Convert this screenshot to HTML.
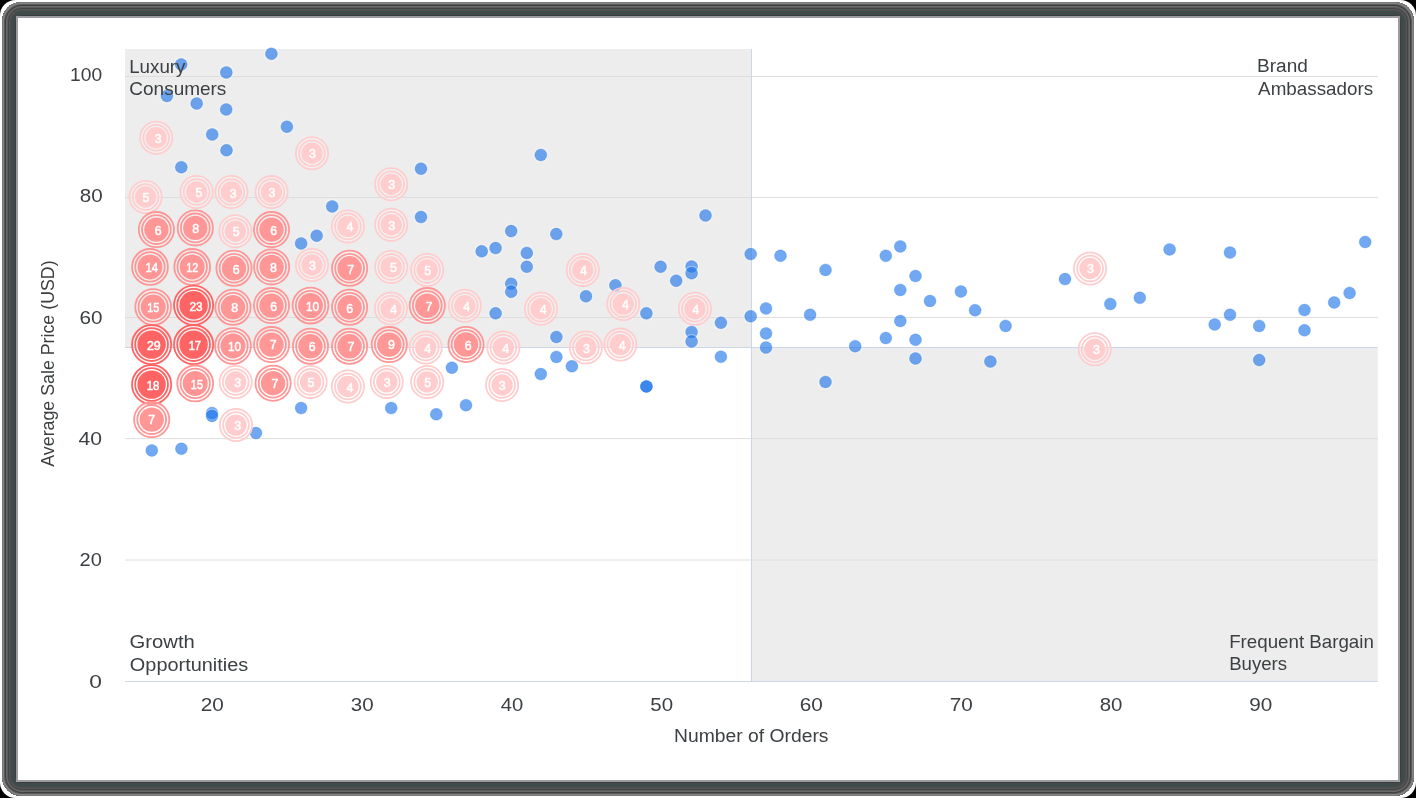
<!DOCTYPE html>
<html><head><meta charset="utf-8"><title>Customer Segments</title>
<style>
html,body{margin:0;padding:0;width:1416px;height:798px;overflow:hidden;background:#000;}
*{font-family:"Liberation Sans",sans-serif;}
#outer{position:absolute;left:0;top:0;width:1416px;height:798px;background:#fff;border-radius:15.5px;}
#frame{position:absolute;left:2px;top:2px;width:1412px;height:794px;background:#9b9ba0;border-radius:20px;box-shadow:inset 0 0 0 1px #7a7a7a,inset 0 0 0 2px #858585,inset 0 0 0 3px #585858,inset 0 0 0 4px #404040,inset 0 0 0 5px #686868,inset 0 0 0 6px #5c5c5c,inset 0 0 0 7px #444444,inset 0 0 0 8px #555555,inset 0 0 0 9px #4e4e4e,inset 0 0 0 10px #3a4e4e,inset 0 0 0 11px #474747,inset 0 0 0 12px #3c4c4c,inset 0 0 0 13px #474747,inset 0 0 0 14px #334040;}
#light{position:absolute;left:16px;top:16px;width:1384px;height:766px;background:#9b9ba0;}
#card{position:absolute;left:18px;top:18px;width:1380px;height:762px;background:#fff;}
svg{position:absolute;left:0;top:0;will-change:transform;}
</style></head><body>
<div id="outer"></div><div id="frame"></div><div id="light"></div><div id="card"></div>
<svg width="1416" height="798" viewBox="0 0 1416 798" font-family="Liberation Sans, sans-serif">
<rect x="125.0" y="49.0" width="626.5" height="298.5" fill="#ededed"/>
<rect x="751.5" y="347.5" width="626.3" height="333.5" fill="#ededed"/>
<line x1="125.0" x2="1377.8" y1="76.5" y2="76.5" stroke="#dedede" stroke-width="1"/>
<line x1="125.0" x2="1377.8" y1="197.5" y2="197.5" stroke="#dedede" stroke-width="1"/>
<line x1="125.0" x2="1377.8" y1="317.5" y2="317.5" stroke="#dedede" stroke-width="1"/>
<line x1="125.0" x2="1377.8" y1="438.6" y2="438.6" stroke="#dedede" stroke-width="1"/>
<line x1="125.0" x2="1377.8" y1="560.0" y2="560.0" stroke="#dedede" stroke-width="1"/>
<line x1="751.5" x2="751.5" y1="49.0" y2="681.0" stroke="#ccd6eb" stroke-width="1"/>
<line x1="125.0" x2="1377.8" y1="347.5" y2="347.5" stroke="#ccd6eb" stroke-width="1"/>
<line x1="125.0" x2="1377.8" y1="681.5" y2="681.5" stroke="#ccd6eb" stroke-width="1"/>
<circle cx="181.2" cy="64.4" r="7.0" fill="none" stroke="#fff" stroke-opacity="0.35" stroke-width="1.1"/>
<circle cx="181.2" cy="64.4" r="6.0" fill="#1a73e8" fill-opacity="0.62" stroke="#1a73e8" stroke-opacity="0.3" stroke-width="0.8"/>
<circle cx="271.4" cy="53.8" r="7.0" fill="none" stroke="#fff" stroke-opacity="0.35" stroke-width="1.1"/>
<circle cx="271.4" cy="53.8" r="6.0" fill="#1a73e8" fill-opacity="0.62" stroke="#1a73e8" stroke-opacity="0.3" stroke-width="0.8"/>
<circle cx="226.3" cy="72.4" r="7.0" fill="none" stroke="#fff" stroke-opacity="0.35" stroke-width="1.1"/>
<circle cx="226.3" cy="72.4" r="6.0" fill="#1a73e8" fill-opacity="0.62" stroke="#1a73e8" stroke-opacity="0.3" stroke-width="0.8"/>
<circle cx="166.9" cy="95.9" r="7.0" fill="none" stroke="#fff" stroke-opacity="0.35" stroke-width="1.1"/>
<circle cx="166.9" cy="95.9" r="6.0" fill="#1a73e8" fill-opacity="0.62" stroke="#1a73e8" stroke-opacity="0.3" stroke-width="0.8"/>
<circle cx="196.7" cy="103.5" r="7.0" fill="none" stroke="#fff" stroke-opacity="0.35" stroke-width="1.1"/>
<circle cx="196.7" cy="103.5" r="6.0" fill="#1a73e8" fill-opacity="0.62" stroke="#1a73e8" stroke-opacity="0.3" stroke-width="0.8"/>
<circle cx="226.2" cy="109.5" r="7.0" fill="none" stroke="#fff" stroke-opacity="0.35" stroke-width="1.1"/>
<circle cx="226.2" cy="109.5" r="6.0" fill="#1a73e8" fill-opacity="0.62" stroke="#1a73e8" stroke-opacity="0.3" stroke-width="0.8"/>
<circle cx="286.9" cy="126.7" r="7.0" fill="none" stroke="#fff" stroke-opacity="0.35" stroke-width="1.1"/>
<circle cx="286.9" cy="126.7" r="6.0" fill="#1a73e8" fill-opacity="0.62" stroke="#1a73e8" stroke-opacity="0.3" stroke-width="0.8"/>
<circle cx="212.2" cy="134.5" r="7.0" fill="none" stroke="#fff" stroke-opacity="0.35" stroke-width="1.1"/>
<circle cx="212.2" cy="134.5" r="6.0" fill="#1a73e8" fill-opacity="0.62" stroke="#1a73e8" stroke-opacity="0.3" stroke-width="0.8"/>
<circle cx="226.5" cy="150.3" r="7.0" fill="none" stroke="#fff" stroke-opacity="0.35" stroke-width="1.1"/>
<circle cx="226.5" cy="150.3" r="6.0" fill="#1a73e8" fill-opacity="0.62" stroke="#1a73e8" stroke-opacity="0.3" stroke-width="0.8"/>
<circle cx="181.3" cy="167.2" r="7.0" fill="none" stroke="#fff" stroke-opacity="0.35" stroke-width="1.1"/>
<circle cx="181.3" cy="167.2" r="6.0" fill="#1a73e8" fill-opacity="0.62" stroke="#1a73e8" stroke-opacity="0.3" stroke-width="0.8"/>
<circle cx="332.2" cy="206.4" r="7.0" fill="none" stroke="#fff" stroke-opacity="0.35" stroke-width="1.1"/>
<circle cx="332.2" cy="206.4" r="6.0" fill="#1a73e8" fill-opacity="0.62" stroke="#1a73e8" stroke-opacity="0.3" stroke-width="0.8"/>
<circle cx="421.0" cy="168.7" r="7.0" fill="none" stroke="#fff" stroke-opacity="0.35" stroke-width="1.1"/>
<circle cx="421.0" cy="168.7" r="6.0" fill="#1a73e8" fill-opacity="0.62" stroke="#1a73e8" stroke-opacity="0.3" stroke-width="0.8"/>
<circle cx="540.8" cy="154.9" r="7.0" fill="none" stroke="#fff" stroke-opacity="0.35" stroke-width="1.1"/>
<circle cx="540.8" cy="154.9" r="6.0" fill="#1a73e8" fill-opacity="0.62" stroke="#1a73e8" stroke-opacity="0.3" stroke-width="0.8"/>
<circle cx="316.7" cy="235.7" r="7.0" fill="none" stroke="#fff" stroke-opacity="0.35" stroke-width="1.1"/>
<circle cx="316.7" cy="235.7" r="6.0" fill="#1a73e8" fill-opacity="0.62" stroke="#1a73e8" stroke-opacity="0.3" stroke-width="0.8"/>
<circle cx="301.1" cy="243.4" r="7.0" fill="none" stroke="#fff" stroke-opacity="0.35" stroke-width="1.1"/>
<circle cx="301.1" cy="243.4" r="6.0" fill="#1a73e8" fill-opacity="0.62" stroke="#1a73e8" stroke-opacity="0.3" stroke-width="0.8"/>
<circle cx="421.0" cy="217.0" r="7.0" fill="none" stroke="#fff" stroke-opacity="0.35" stroke-width="1.1"/>
<circle cx="421.0" cy="217.0" r="6.0" fill="#1a73e8" fill-opacity="0.62" stroke="#1a73e8" stroke-opacity="0.3" stroke-width="0.8"/>
<circle cx="212.0" cy="413.0" r="7.0" fill="none" stroke="#fff" stroke-opacity="0.35" stroke-width="1.1"/>
<circle cx="212.0" cy="413.0" r="6.0" fill="#1a73e8" fill-opacity="0.62" stroke="#1a73e8" stroke-opacity="0.3" stroke-width="0.8"/>
<circle cx="212.0" cy="416.0" r="7.0" fill="none" stroke="#fff" stroke-opacity="0.35" stroke-width="1.1"/>
<circle cx="212.0" cy="416.0" r="6.0" fill="#1a73e8" fill-opacity="0.62" stroke="#1a73e8" stroke-opacity="0.3" stroke-width="0.8"/>
<circle cx="301.1" cy="408.1" r="7.0" fill="none" stroke="#fff" stroke-opacity="0.35" stroke-width="1.1"/>
<circle cx="301.1" cy="408.1" r="6.0" fill="#1a73e8" fill-opacity="0.62" stroke="#1a73e8" stroke-opacity="0.3" stroke-width="0.8"/>
<circle cx="391.2" cy="408.1" r="7.0" fill="none" stroke="#fff" stroke-opacity="0.35" stroke-width="1.1"/>
<circle cx="391.2" cy="408.1" r="6.0" fill="#1a73e8" fill-opacity="0.62" stroke="#1a73e8" stroke-opacity="0.3" stroke-width="0.8"/>
<circle cx="256.0" cy="433.0" r="7.0" fill="none" stroke="#fff" stroke-opacity="0.35" stroke-width="1.1"/>
<circle cx="256.0" cy="433.0" r="6.0" fill="#1a73e8" fill-opacity="0.62" stroke="#1a73e8" stroke-opacity="0.3" stroke-width="0.8"/>
<circle cx="151.8" cy="450.4" r="7.0" fill="none" stroke="#fff" stroke-opacity="0.35" stroke-width="1.1"/>
<circle cx="151.8" cy="450.4" r="6.0" fill="#1a73e8" fill-opacity="0.62" stroke="#1a73e8" stroke-opacity="0.3" stroke-width="0.8"/>
<circle cx="181.4" cy="448.8" r="7.0" fill="none" stroke="#fff" stroke-opacity="0.35" stroke-width="1.1"/>
<circle cx="181.4" cy="448.8" r="6.0" fill="#1a73e8" fill-opacity="0.62" stroke="#1a73e8" stroke-opacity="0.3" stroke-width="0.8"/>
<circle cx="511.2" cy="231.1" r="7.0" fill="none" stroke="#fff" stroke-opacity="0.35" stroke-width="1.1"/>
<circle cx="511.2" cy="231.1" r="6.0" fill="#1a73e8" fill-opacity="0.62" stroke="#1a73e8" stroke-opacity="0.3" stroke-width="0.8"/>
<circle cx="556.3" cy="234.1" r="7.0" fill="none" stroke="#fff" stroke-opacity="0.35" stroke-width="1.1"/>
<circle cx="556.3" cy="234.1" r="6.0" fill="#1a73e8" fill-opacity="0.62" stroke="#1a73e8" stroke-opacity="0.3" stroke-width="0.8"/>
<circle cx="481.7" cy="251.3" r="7.0" fill="none" stroke="#fff" stroke-opacity="0.35" stroke-width="1.1"/>
<circle cx="481.7" cy="251.3" r="6.0" fill="#1a73e8" fill-opacity="0.62" stroke="#1a73e8" stroke-opacity="0.3" stroke-width="0.8"/>
<circle cx="495.6" cy="248.1" r="7.0" fill="none" stroke="#fff" stroke-opacity="0.35" stroke-width="1.1"/>
<circle cx="495.6" cy="248.1" r="6.0" fill="#1a73e8" fill-opacity="0.62" stroke="#1a73e8" stroke-opacity="0.3" stroke-width="0.8"/>
<circle cx="526.8" cy="252.9" r="7.0" fill="none" stroke="#fff" stroke-opacity="0.35" stroke-width="1.1"/>
<circle cx="526.8" cy="252.9" r="6.0" fill="#1a73e8" fill-opacity="0.62" stroke="#1a73e8" stroke-opacity="0.3" stroke-width="0.8"/>
<circle cx="526.8" cy="266.7" r="7.0" fill="none" stroke="#fff" stroke-opacity="0.35" stroke-width="1.1"/>
<circle cx="526.8" cy="266.7" r="6.0" fill="#1a73e8" fill-opacity="0.62" stroke="#1a73e8" stroke-opacity="0.3" stroke-width="0.8"/>
<circle cx="511.2" cy="283.7" r="7.0" fill="none" stroke="#fff" stroke-opacity="0.35" stroke-width="1.1"/>
<circle cx="511.2" cy="283.7" r="6.0" fill="#1a73e8" fill-opacity="0.62" stroke="#1a73e8" stroke-opacity="0.3" stroke-width="0.8"/>
<circle cx="511.2" cy="291.8" r="7.0" fill="none" stroke="#fff" stroke-opacity="0.35" stroke-width="1.1"/>
<circle cx="511.2" cy="291.8" r="6.0" fill="#1a73e8" fill-opacity="0.62" stroke="#1a73e8" stroke-opacity="0.3" stroke-width="0.8"/>
<circle cx="660.6" cy="266.7" r="7.0" fill="none" stroke="#fff" stroke-opacity="0.35" stroke-width="1.1"/>
<circle cx="660.6" cy="266.7" r="6.0" fill="#1a73e8" fill-opacity="0.62" stroke="#1a73e8" stroke-opacity="0.3" stroke-width="0.8"/>
<circle cx="676.2" cy="280.7" r="7.0" fill="none" stroke="#fff" stroke-opacity="0.35" stroke-width="1.1"/>
<circle cx="676.2" cy="280.7" r="6.0" fill="#1a73e8" fill-opacity="0.62" stroke="#1a73e8" stroke-opacity="0.3" stroke-width="0.8"/>
<circle cx="691.6" cy="266.5" r="7.0" fill="none" stroke="#fff" stroke-opacity="0.35" stroke-width="1.1"/>
<circle cx="691.6" cy="266.5" r="6.0" fill="#1a73e8" fill-opacity="0.62" stroke="#1a73e8" stroke-opacity="0.3" stroke-width="0.8"/>
<circle cx="691.6" cy="273.2" r="7.0" fill="none" stroke="#fff" stroke-opacity="0.35" stroke-width="1.1"/>
<circle cx="691.6" cy="273.2" r="6.0" fill="#1a73e8" fill-opacity="0.62" stroke="#1a73e8" stroke-opacity="0.3" stroke-width="0.8"/>
<circle cx="615.4" cy="285.3" r="7.0" fill="none" stroke="#fff" stroke-opacity="0.35" stroke-width="1.1"/>
<circle cx="615.4" cy="285.3" r="6.0" fill="#1a73e8" fill-opacity="0.62" stroke="#1a73e8" stroke-opacity="0.3" stroke-width="0.8"/>
<circle cx="586.0" cy="296.3" r="7.0" fill="none" stroke="#fff" stroke-opacity="0.35" stroke-width="1.1"/>
<circle cx="586.0" cy="296.3" r="6.0" fill="#1a73e8" fill-opacity="0.62" stroke="#1a73e8" stroke-opacity="0.3" stroke-width="0.8"/>
<circle cx="495.6" cy="313.3" r="7.0" fill="none" stroke="#fff" stroke-opacity="0.35" stroke-width="1.1"/>
<circle cx="495.6" cy="313.3" r="6.0" fill="#1a73e8" fill-opacity="0.62" stroke="#1a73e8" stroke-opacity="0.3" stroke-width="0.8"/>
<circle cx="646.4" cy="313.3" r="7.0" fill="none" stroke="#fff" stroke-opacity="0.35" stroke-width="1.1"/>
<circle cx="646.4" cy="313.3" r="6.0" fill="#1a73e8" fill-opacity="0.62" stroke="#1a73e8" stroke-opacity="0.3" stroke-width="0.8"/>
<circle cx="556.4" cy="336.9" r="7.0" fill="none" stroke="#fff" stroke-opacity="0.35" stroke-width="1.1"/>
<circle cx="556.4" cy="336.9" r="6.0" fill="#1a73e8" fill-opacity="0.62" stroke="#1a73e8" stroke-opacity="0.3" stroke-width="0.8"/>
<circle cx="556.4" cy="356.9" r="7.0" fill="none" stroke="#fff" stroke-opacity="0.35" stroke-width="1.1"/>
<circle cx="556.4" cy="356.9" r="6.0" fill="#1a73e8" fill-opacity="0.62" stroke="#1a73e8" stroke-opacity="0.3" stroke-width="0.8"/>
<circle cx="691.6" cy="331.9" r="7.0" fill="none" stroke="#fff" stroke-opacity="0.35" stroke-width="1.1"/>
<circle cx="691.6" cy="331.9" r="6.0" fill="#1a73e8" fill-opacity="0.62" stroke="#1a73e8" stroke-opacity="0.3" stroke-width="0.8"/>
<circle cx="691.6" cy="341.5" r="7.0" fill="none" stroke="#fff" stroke-opacity="0.35" stroke-width="1.1"/>
<circle cx="691.6" cy="341.5" r="6.0" fill="#1a73e8" fill-opacity="0.62" stroke="#1a73e8" stroke-opacity="0.3" stroke-width="0.8"/>
<circle cx="451.9" cy="367.7" r="7.0" fill="none" stroke="#fff" stroke-opacity="0.35" stroke-width="1.1"/>
<circle cx="451.9" cy="367.7" r="6.0" fill="#1a73e8" fill-opacity="0.62" stroke="#1a73e8" stroke-opacity="0.3" stroke-width="0.8"/>
<circle cx="571.9" cy="366.3" r="7.0" fill="none" stroke="#fff" stroke-opacity="0.35" stroke-width="1.1"/>
<circle cx="571.9" cy="366.3" r="6.0" fill="#1a73e8" fill-opacity="0.62" stroke="#1a73e8" stroke-opacity="0.3" stroke-width="0.8"/>
<circle cx="540.8" cy="374.1" r="7.0" fill="none" stroke="#fff" stroke-opacity="0.35" stroke-width="1.1"/>
<circle cx="540.8" cy="374.1" r="6.0" fill="#1a73e8" fill-opacity="0.62" stroke="#1a73e8" stroke-opacity="0.3" stroke-width="0.8"/>
<circle cx="646.4" cy="386.4" r="7.0" fill="none" stroke="#fff" stroke-opacity="0.35" stroke-width="1.1"/>
<circle cx="646.4" cy="386.4" r="6.0" fill="#1a73e8" fill-opacity="0.62" stroke="#1a73e8" stroke-opacity="0.3" stroke-width="0.8"/>
<circle cx="646.4" cy="386.4" r="7.0" fill="none" stroke="#fff" stroke-opacity="0.35" stroke-width="1.1"/>
<circle cx="646.4" cy="386.4" r="6.0" fill="#1a73e8" fill-opacity="0.62" stroke="#1a73e8" stroke-opacity="0.3" stroke-width="0.8"/>
<circle cx="466.0" cy="405.2" r="7.0" fill="none" stroke="#fff" stroke-opacity="0.35" stroke-width="1.1"/>
<circle cx="466.0" cy="405.2" r="6.0" fill="#1a73e8" fill-opacity="0.62" stroke="#1a73e8" stroke-opacity="0.3" stroke-width="0.8"/>
<circle cx="436.3" cy="414.3" r="7.0" fill="none" stroke="#fff" stroke-opacity="0.35" stroke-width="1.1"/>
<circle cx="436.3" cy="414.3" r="6.0" fill="#1a73e8" fill-opacity="0.62" stroke="#1a73e8" stroke-opacity="0.3" stroke-width="0.8"/>
<circle cx="750.7" cy="254.1" r="7.0" fill="none" stroke="#fff" stroke-opacity="0.35" stroke-width="1.1"/>
<circle cx="750.7" cy="254.1" r="6.0" fill="#1a73e8" fill-opacity="0.62" stroke="#1a73e8" stroke-opacity="0.3" stroke-width="0.8"/>
<circle cx="780.5" cy="255.8" r="7.0" fill="none" stroke="#fff" stroke-opacity="0.35" stroke-width="1.1"/>
<circle cx="780.5" cy="255.8" r="6.0" fill="#1a73e8" fill-opacity="0.62" stroke="#1a73e8" stroke-opacity="0.3" stroke-width="0.8"/>
<circle cx="825.5" cy="269.9" r="7.0" fill="none" stroke="#fff" stroke-opacity="0.35" stroke-width="1.1"/>
<circle cx="825.5" cy="269.9" r="6.0" fill="#1a73e8" fill-opacity="0.62" stroke="#1a73e8" stroke-opacity="0.3" stroke-width="0.8"/>
<circle cx="885.8" cy="255.8" r="7.0" fill="none" stroke="#fff" stroke-opacity="0.35" stroke-width="1.1"/>
<circle cx="885.8" cy="255.8" r="6.0" fill="#1a73e8" fill-opacity="0.62" stroke="#1a73e8" stroke-opacity="0.3" stroke-width="0.8"/>
<circle cx="900.3" cy="246.4" r="7.0" fill="none" stroke="#fff" stroke-opacity="0.35" stroke-width="1.1"/>
<circle cx="900.3" cy="246.4" r="6.0" fill="#1a73e8" fill-opacity="0.62" stroke="#1a73e8" stroke-opacity="0.3" stroke-width="0.8"/>
<circle cx="915.5" cy="276.0" r="7.0" fill="none" stroke="#fff" stroke-opacity="0.35" stroke-width="1.1"/>
<circle cx="915.5" cy="276.0" r="6.0" fill="#1a73e8" fill-opacity="0.62" stroke="#1a73e8" stroke-opacity="0.3" stroke-width="0.8"/>
<circle cx="900.3" cy="289.9" r="7.0" fill="none" stroke="#fff" stroke-opacity="0.35" stroke-width="1.1"/>
<circle cx="900.3" cy="289.9" r="6.0" fill="#1a73e8" fill-opacity="0.62" stroke="#1a73e8" stroke-opacity="0.3" stroke-width="0.8"/>
<circle cx="930.0" cy="301.0" r="7.0" fill="none" stroke="#fff" stroke-opacity="0.35" stroke-width="1.1"/>
<circle cx="930.0" cy="301.0" r="6.0" fill="#1a73e8" fill-opacity="0.62" stroke="#1a73e8" stroke-opacity="0.3" stroke-width="0.8"/>
<circle cx="960.9" cy="291.5" r="7.0" fill="none" stroke="#fff" stroke-opacity="0.35" stroke-width="1.1"/>
<circle cx="960.9" cy="291.5" r="6.0" fill="#1a73e8" fill-opacity="0.62" stroke="#1a73e8" stroke-opacity="0.3" stroke-width="0.8"/>
<circle cx="975.1" cy="310.2" r="7.0" fill="none" stroke="#fff" stroke-opacity="0.35" stroke-width="1.1"/>
<circle cx="975.1" cy="310.2" r="6.0" fill="#1a73e8" fill-opacity="0.62" stroke="#1a73e8" stroke-opacity="0.3" stroke-width="0.8"/>
<circle cx="766.0" cy="308.4" r="7.0" fill="none" stroke="#fff" stroke-opacity="0.35" stroke-width="1.1"/>
<circle cx="766.0" cy="308.4" r="6.0" fill="#1a73e8" fill-opacity="0.62" stroke="#1a73e8" stroke-opacity="0.3" stroke-width="0.8"/>
<circle cx="750.7" cy="316.3" r="7.0" fill="none" stroke="#fff" stroke-opacity="0.35" stroke-width="1.1"/>
<circle cx="750.7" cy="316.3" r="6.0" fill="#1a73e8" fill-opacity="0.62" stroke="#1a73e8" stroke-opacity="0.3" stroke-width="0.8"/>
<circle cx="810.1" cy="314.8" r="7.0" fill="none" stroke="#fff" stroke-opacity="0.35" stroke-width="1.1"/>
<circle cx="810.1" cy="314.8" r="6.0" fill="#1a73e8" fill-opacity="0.62" stroke="#1a73e8" stroke-opacity="0.3" stroke-width="0.8"/>
<circle cx="720.9" cy="322.7" r="7.0" fill="none" stroke="#fff" stroke-opacity="0.35" stroke-width="1.1"/>
<circle cx="720.9" cy="322.7" r="6.0" fill="#1a73e8" fill-opacity="0.62" stroke="#1a73e8" stroke-opacity="0.3" stroke-width="0.8"/>
<circle cx="766.0" cy="333.4" r="7.0" fill="none" stroke="#fff" stroke-opacity="0.35" stroke-width="1.1"/>
<circle cx="766.0" cy="333.4" r="6.0" fill="#1a73e8" fill-opacity="0.62" stroke="#1a73e8" stroke-opacity="0.3" stroke-width="0.8"/>
<circle cx="766.0" cy="347.5" r="7.0" fill="none" stroke="#fff" stroke-opacity="0.35" stroke-width="1.1"/>
<circle cx="766.0" cy="347.5" r="6.0" fill="#1a73e8" fill-opacity="0.62" stroke="#1a73e8" stroke-opacity="0.3" stroke-width="0.8"/>
<circle cx="900.3" cy="321.0" r="7.0" fill="none" stroke="#fff" stroke-opacity="0.35" stroke-width="1.1"/>
<circle cx="900.3" cy="321.0" r="6.0" fill="#1a73e8" fill-opacity="0.62" stroke="#1a73e8" stroke-opacity="0.3" stroke-width="0.8"/>
<circle cx="885.8" cy="338.0" r="7.0" fill="none" stroke="#fff" stroke-opacity="0.35" stroke-width="1.1"/>
<circle cx="885.8" cy="338.0" r="6.0" fill="#1a73e8" fill-opacity="0.62" stroke="#1a73e8" stroke-opacity="0.3" stroke-width="0.8"/>
<circle cx="915.5" cy="339.8" r="7.0" fill="none" stroke="#fff" stroke-opacity="0.35" stroke-width="1.1"/>
<circle cx="915.5" cy="339.8" r="6.0" fill="#1a73e8" fill-opacity="0.62" stroke="#1a73e8" stroke-opacity="0.3" stroke-width="0.8"/>
<circle cx="855.2" cy="346.2" r="7.0" fill="none" stroke="#fff" stroke-opacity="0.35" stroke-width="1.1"/>
<circle cx="855.2" cy="346.2" r="6.0" fill="#1a73e8" fill-opacity="0.62" stroke="#1a73e8" stroke-opacity="0.3" stroke-width="0.8"/>
<circle cx="915.5" cy="358.5" r="7.0" fill="none" stroke="#fff" stroke-opacity="0.35" stroke-width="1.1"/>
<circle cx="915.5" cy="358.5" r="6.0" fill="#1a73e8" fill-opacity="0.62" stroke="#1a73e8" stroke-opacity="0.3" stroke-width="0.8"/>
<circle cx="720.9" cy="356.8" r="7.0" fill="none" stroke="#fff" stroke-opacity="0.35" stroke-width="1.1"/>
<circle cx="720.9" cy="356.8" r="6.0" fill="#1a73e8" fill-opacity="0.62" stroke="#1a73e8" stroke-opacity="0.3" stroke-width="0.8"/>
<circle cx="825.5" cy="381.9" r="7.0" fill="none" stroke="#fff" stroke-opacity="0.35" stroke-width="1.1"/>
<circle cx="825.5" cy="381.9" r="6.0" fill="#1a73e8" fill-opacity="0.62" stroke="#1a73e8" stroke-opacity="0.3" stroke-width="0.8"/>
<circle cx="705.5" cy="215.5" r="7.0" fill="none" stroke="#fff" stroke-opacity="0.35" stroke-width="1.1"/>
<circle cx="705.5" cy="215.5" r="6.0" fill="#1a73e8" fill-opacity="0.62" stroke="#1a73e8" stroke-opacity="0.3" stroke-width="0.8"/>
<circle cx="1005.6" cy="325.9" r="7.0" fill="none" stroke="#fff" stroke-opacity="0.35" stroke-width="1.1"/>
<circle cx="1005.6" cy="325.9" r="6.0" fill="#1a73e8" fill-opacity="0.62" stroke="#1a73e8" stroke-opacity="0.3" stroke-width="0.8"/>
<circle cx="990.4" cy="361.6" r="7.0" fill="none" stroke="#fff" stroke-opacity="0.35" stroke-width="1.1"/>
<circle cx="990.4" cy="361.6" r="6.0" fill="#1a73e8" fill-opacity="0.62" stroke="#1a73e8" stroke-opacity="0.3" stroke-width="0.8"/>
<circle cx="1065.0" cy="279.1" r="7.0" fill="none" stroke="#fff" stroke-opacity="0.35" stroke-width="1.1"/>
<circle cx="1065.0" cy="279.1" r="6.0" fill="#1a73e8" fill-opacity="0.62" stroke="#1a73e8" stroke-opacity="0.3" stroke-width="0.8"/>
<circle cx="1110.3" cy="303.9" r="7.0" fill="none" stroke="#fff" stroke-opacity="0.35" stroke-width="1.1"/>
<circle cx="1110.3" cy="303.9" r="6.0" fill="#1a73e8" fill-opacity="0.62" stroke="#1a73e8" stroke-opacity="0.3" stroke-width="0.8"/>
<circle cx="1139.8" cy="297.8" r="7.0" fill="none" stroke="#fff" stroke-opacity="0.35" stroke-width="1.1"/>
<circle cx="1139.8" cy="297.8" r="6.0" fill="#1a73e8" fill-opacity="0.62" stroke="#1a73e8" stroke-opacity="0.3" stroke-width="0.8"/>
<circle cx="1169.6" cy="249.4" r="7.0" fill="none" stroke="#fff" stroke-opacity="0.35" stroke-width="1.1"/>
<circle cx="1169.6" cy="249.4" r="6.0" fill="#1a73e8" fill-opacity="0.62" stroke="#1a73e8" stroke-opacity="0.3" stroke-width="0.8"/>
<circle cx="1230.0" cy="252.6" r="7.0" fill="none" stroke="#fff" stroke-opacity="0.35" stroke-width="1.1"/>
<circle cx="1230.0" cy="252.6" r="6.0" fill="#1a73e8" fill-opacity="0.62" stroke="#1a73e8" stroke-opacity="0.3" stroke-width="0.8"/>
<circle cx="1230.0" cy="314.8" r="7.0" fill="none" stroke="#fff" stroke-opacity="0.35" stroke-width="1.1"/>
<circle cx="1230.0" cy="314.8" r="6.0" fill="#1a73e8" fill-opacity="0.62" stroke="#1a73e8" stroke-opacity="0.3" stroke-width="0.8"/>
<circle cx="1214.7" cy="324.4" r="7.0" fill="none" stroke="#fff" stroke-opacity="0.35" stroke-width="1.1"/>
<circle cx="1214.7" cy="324.4" r="6.0" fill="#1a73e8" fill-opacity="0.62" stroke="#1a73e8" stroke-opacity="0.3" stroke-width="0.8"/>
<circle cx="1259.2" cy="325.9" r="7.0" fill="none" stroke="#fff" stroke-opacity="0.35" stroke-width="1.1"/>
<circle cx="1259.2" cy="325.9" r="6.0" fill="#1a73e8" fill-opacity="0.62" stroke="#1a73e8" stroke-opacity="0.3" stroke-width="0.8"/>
<circle cx="1259.2" cy="360.0" r="7.0" fill="none" stroke="#fff" stroke-opacity="0.35" stroke-width="1.1"/>
<circle cx="1259.2" cy="360.0" r="6.0" fill="#1a73e8" fill-opacity="0.62" stroke="#1a73e8" stroke-opacity="0.3" stroke-width="0.8"/>
<circle cx="1304.5" cy="310.1" r="7.0" fill="none" stroke="#fff" stroke-opacity="0.35" stroke-width="1.1"/>
<circle cx="1304.5" cy="310.1" r="6.0" fill="#1a73e8" fill-opacity="0.62" stroke="#1a73e8" stroke-opacity="0.3" stroke-width="0.8"/>
<circle cx="1304.5" cy="330.3" r="7.0" fill="none" stroke="#fff" stroke-opacity="0.35" stroke-width="1.1"/>
<circle cx="1304.5" cy="330.3" r="6.0" fill="#1a73e8" fill-opacity="0.62" stroke="#1a73e8" stroke-opacity="0.3" stroke-width="0.8"/>
<circle cx="1334.2" cy="302.4" r="7.0" fill="none" stroke="#fff" stroke-opacity="0.35" stroke-width="1.1"/>
<circle cx="1334.2" cy="302.4" r="6.0" fill="#1a73e8" fill-opacity="0.62" stroke="#1a73e8" stroke-opacity="0.3" stroke-width="0.8"/>
<circle cx="1349.6" cy="293.0" r="7.0" fill="none" stroke="#fff" stroke-opacity="0.35" stroke-width="1.1"/>
<circle cx="1349.6" cy="293.0" r="6.0" fill="#1a73e8" fill-opacity="0.62" stroke="#1a73e8" stroke-opacity="0.3" stroke-width="0.8"/>
<circle cx="1365.2" cy="242.0" r="7.0" fill="none" stroke="#fff" stroke-opacity="0.35" stroke-width="1.1"/>
<circle cx="1365.2" cy="242.0" r="6.0" fill="#1a73e8" fill-opacity="0.62" stroke="#1a73e8" stroke-opacity="0.3" stroke-width="0.8"/>
<g transform="translate(156.2,137.8)"><circle r="16.10" fill="#fff" fill-opacity="0.22" stroke="#ffcdcd" stroke-width="1.8"/><circle r="12.90" fill="none" stroke="#ffcdcd" stroke-width="1.8"/><circle r="10.70" fill="#ffcdcd"/></g>
<text transform="translate(158.30,143.40) scale(1.0,1)" text-anchor="middle" font-size="12.4" stroke="#fff" stroke-width="0.5" fill="#fff">3</text>
<g transform="translate(145.6,197.0)"><circle r="16.10" fill="#fff" fill-opacity="0.22" stroke="#ffcdcd" stroke-width="1.8"/><circle r="12.90" fill="none" stroke="#ffcdcd" stroke-width="1.8"/><circle r="10.70" fill="#ffcdcd"/></g>
<text transform="translate(146.00,201.70) scale(1.0,1)" text-anchor="middle" font-size="12.4" stroke="#fff" stroke-width="0.5" fill="#fff">5</text>
<g transform="translate(196.6,192.0)"><circle r="16.10" fill="#fff" fill-opacity="0.22" stroke="#ffcdcd" stroke-width="1.8"/><circle r="12.90" fill="none" stroke="#ffcdcd" stroke-width="1.8"/><circle r="10.70" fill="#ffcdcd"/></g>
<text transform="translate(199.00,197.40) scale(1.0,1)" text-anchor="middle" font-size="12.4" stroke="#fff" stroke-width="0.5" fill="#fff">5</text>
<g transform="translate(231.4,192.0)"><circle r="16.10" fill="#fff" fill-opacity="0.22" stroke="#ffcdcd" stroke-width="1.8"/><circle r="12.90" fill="none" stroke="#ffcdcd" stroke-width="1.8"/><circle r="10.70" fill="#ffcdcd"/></g>
<text transform="translate(233.20,197.70) scale(1.0,1)" text-anchor="middle" font-size="12.4" stroke="#fff" stroke-width="0.5" fill="#fff">3</text>
<g transform="translate(271.5,192.1)"><circle r="16.10" fill="#fff" fill-opacity="0.22" stroke="#ffcdcd" stroke-width="1.8"/><circle r="12.90" fill="none" stroke="#ffcdcd" stroke-width="1.8"/><circle r="10.70" fill="#ffcdcd"/></g>
<text transform="translate(272.00,197.30) scale(1.0,1)" text-anchor="middle" font-size="12.4" stroke="#fff" stroke-width="0.5" fill="#fff">3</text>
<g transform="translate(312.0,153.3)"><circle r="16.10" fill="#fff" fill-opacity="0.22" stroke="#ffcdcd" stroke-width="1.8"/><circle r="12.90" fill="none" stroke="#ffcdcd" stroke-width="1.8"/><circle r="10.70" fill="#ffcdcd"/></g>
<text transform="translate(312.40,158.20) scale(1.0,1)" text-anchor="middle" font-size="12.4" stroke="#fff" stroke-width="0.5" fill="#fff">3</text>
<g transform="translate(391.2,184.2)"><circle r="16.10" fill="#fff" fill-opacity="0.22" stroke="#ffcdcd" stroke-width="1.8"/><circle r="12.90" fill="none" stroke="#ffcdcd" stroke-width="1.8"/><circle r="10.70" fill="#ffcdcd"/></g>
<text transform="translate(391.60,189.10) scale(1.0,1)" text-anchor="middle" font-size="12.4" stroke="#fff" stroke-width="0.5" fill="#fff">3</text>
<g transform="translate(156.4,229.6)"><circle r="17.60" fill="#fff" fill-opacity="0.22" stroke="#ff9797" stroke-width="1.8"/><circle r="14.40" fill="none" stroke="#ff9797" stroke-width="1.8"/><circle r="12.20" fill="#ff9797"/></g>
<text transform="translate(158.20,235.00) scale(1.0,1)" text-anchor="middle" font-size="12.4" stroke="#fff" stroke-width="0.5" fill="#fff">6</text>
<g transform="translate(195.3,227.9)"><circle r="17.60" fill="#fff" fill-opacity="0.22" stroke="#ff9797" stroke-width="1.8"/><circle r="14.40" fill="none" stroke="#ff9797" stroke-width="1.8"/><circle r="12.20" fill="#ff9797"/></g>
<text transform="translate(195.70,233.20) scale(1.0,1)" text-anchor="middle" font-size="12.4" stroke="#fff" stroke-width="0.5" fill="#fff">8</text>
<g transform="translate(235.4,231.2)"><circle r="16.10" fill="#fff" fill-opacity="0.22" stroke="#ffcdcd" stroke-width="1.8"/><circle r="12.90" fill="none" stroke="#ffcdcd" stroke-width="1.8"/><circle r="10.70" fill="#ffcdcd"/></g>
<text transform="translate(236.10,235.90) scale(1.0,1)" text-anchor="middle" font-size="12.4" stroke="#fff" stroke-width="0.5" fill="#fff">5</text>
<g transform="translate(271.5,229.6)"><circle r="17.60" fill="#fff" fill-opacity="0.22" stroke="#ff9797" stroke-width="1.8"/><circle r="14.40" fill="none" stroke="#ff9797" stroke-width="1.8"/><circle r="12.20" fill="#ff9797"/></g>
<text transform="translate(273.60,235.00) scale(1.0,1)" text-anchor="middle" font-size="12.4" stroke="#fff" stroke-width="0.5" fill="#fff">6</text>
<g transform="translate(347.9,226.4)"><circle r="16.10" fill="#fff" fill-opacity="0.22" stroke="#ffcdcd" stroke-width="1.8"/><circle r="12.90" fill="none" stroke="#ffcdcd" stroke-width="1.8"/><circle r="10.70" fill="#ffcdcd"/></g>
<text transform="translate(350.00,231.40) scale(1.0,1)" text-anchor="middle" font-size="12.4" stroke="#fff" stroke-width="0.5" fill="#fff">4</text>
<g transform="translate(391.2,224.8)"><circle r="16.10" fill="#fff" fill-opacity="0.22" stroke="#ffcdcd" stroke-width="1.8"/><circle r="12.90" fill="none" stroke="#ffcdcd" stroke-width="1.8"/><circle r="10.70" fill="#ffcdcd"/></g>
<text transform="translate(391.60,229.70) scale(1.0,1)" text-anchor="middle" font-size="12.4" stroke="#fff" stroke-width="0.5" fill="#fff">3</text>
<g transform="translate(150.0,266.9)"><circle r="17.90" fill="#fff" fill-opacity="0.22" stroke="#ff9595" stroke-width="1.8"/><circle r="14.70" fill="none" stroke="#ff9595" stroke-width="1.8"/><circle r="12.50" fill="#ff9595"/></g>
<text transform="translate(151.80,271.80) scale(0.915,1)" text-anchor="middle" font-size="12.4" stroke="#fff" stroke-width="0.5" fill="#fff">14</text>
<g transform="translate(192.2,266.9)"><circle r="17.90" fill="#fff" fill-opacity="0.22" stroke="#ff9595" stroke-width="1.8"/><circle r="14.70" fill="none" stroke="#ff9595" stroke-width="1.8"/><circle r="12.50" fill="#ff9595"/></g>
<text transform="translate(192.20,271.80) scale(0.87,1)" text-anchor="middle" font-size="12.4" stroke="#fff" stroke-width="0.5" fill="#fff">12</text>
<g transform="translate(234.0,268.3)"><circle r="17.60" fill="#fff" fill-opacity="0.22" stroke="#ff9797" stroke-width="1.8"/><circle r="14.40" fill="none" stroke="#ff9797" stroke-width="1.8"/><circle r="12.20" fill="#ff9797"/></g>
<text transform="translate(236.10,273.50) scale(1.0,1)" text-anchor="middle" font-size="12.4" stroke="#fff" stroke-width="0.5" fill="#fff">6</text>
<g transform="translate(271.6,266.9)"><circle r="17.60" fill="#fff" fill-opacity="0.22" stroke="#ff9797" stroke-width="1.8"/><circle r="14.40" fill="none" stroke="#ff9797" stroke-width="1.8"/><circle r="12.20" fill="#ff9797"/></g>
<text transform="translate(273.50,271.80) scale(1.0,1)" text-anchor="middle" font-size="12.4" stroke="#fff" stroke-width="0.5" fill="#fff">8</text>
<g transform="translate(312.0,265.0)"><circle r="16.10" fill="#fff" fill-opacity="0.22" stroke="#ffcdcd" stroke-width="1.8"/><circle r="12.90" fill="none" stroke="#ffcdcd" stroke-width="1.8"/><circle r="10.70" fill="#ffcdcd"/></g>
<text transform="translate(312.40,270.10) scale(1.0,1)" text-anchor="middle" font-size="12.4" stroke="#fff" stroke-width="0.5" fill="#fff">3</text>
<g transform="translate(349.6,268.3)"><circle r="17.60" fill="#fff" fill-opacity="0.22" stroke="#ff9797" stroke-width="1.8"/><circle r="14.40" fill="none" stroke="#ff9797" stroke-width="1.8"/><circle r="12.20" fill="#ff9797"/></g>
<text transform="translate(350.80,273.50) scale(1.0,1)" text-anchor="middle" font-size="12.4" stroke="#fff" stroke-width="0.5" fill="#fff">7</text>
<g transform="translate(391.2,266.9)"><circle r="16.10" fill="#fff" fill-opacity="0.22" stroke="#ffcdcd" stroke-width="1.8"/><circle r="12.90" fill="none" stroke="#ffcdcd" stroke-width="1.8"/><circle r="10.70" fill="#ffcdcd"/></g>
<text transform="translate(393.40,271.80) scale(1.0,1)" text-anchor="middle" font-size="12.4" stroke="#fff" stroke-width="0.5" fill="#fff">5</text>
<g transform="translate(153.2,307.0)"><circle r="17.90" fill="#fff" fill-opacity="0.22" stroke="#ff9595" stroke-width="1.8"/><circle r="14.70" fill="none" stroke="#ff9595" stroke-width="1.8"/><circle r="12.50" fill="#ff9595"/></g>
<text transform="translate(153.20,312.30) scale(0.88,1)" text-anchor="middle" font-size="12.4" stroke="#fff" stroke-width="0.5" fill="#fff">15</text>
<g transform="translate(193.6,305.3)"><circle r="19.60" fill="#fff" fill-opacity="0.22" stroke="#ff6464" stroke-width="1.8"/><circle r="16.40" fill="none" stroke="#ff6464" stroke-width="1.8"/><circle r="14.20" fill="#ff6464"/></g>
<text transform="translate(196.10,310.70) scale(0.95,1)" text-anchor="middle" font-size="12.4" stroke="#fff" stroke-width="0.5" fill="#fff">23</text>
<g transform="translate(233.0,307.3)"><circle r="17.60" fill="#fff" fill-opacity="0.22" stroke="#ff9797" stroke-width="1.8"/><circle r="14.40" fill="none" stroke="#ff9797" stroke-width="1.8"/><circle r="12.20" fill="#ff9797"/></g>
<text transform="translate(234.60,312.20) scale(1.0,1)" text-anchor="middle" font-size="12.4" stroke="#fff" stroke-width="0.5" fill="#fff">8</text>
<g transform="translate(271.5,305.6)"><circle r="17.60" fill="#fff" fill-opacity="0.22" stroke="#ff9797" stroke-width="1.8"/><circle r="14.40" fill="none" stroke="#ff9797" stroke-width="1.8"/><circle r="12.20" fill="#ff9797"/></g>
<text transform="translate(273.60,310.70) scale(1.0,1)" text-anchor="middle" font-size="12.4" stroke="#fff" stroke-width="0.5" fill="#fff">6</text>
<g transform="translate(310.5,305.6)"><circle r="17.90" fill="#fff" fill-opacity="0.22" stroke="#ff9595" stroke-width="1.8"/><circle r="14.70" fill="none" stroke="#ff9595" stroke-width="1.8"/><circle r="12.50" fill="#ff9595"/></g>
<text transform="translate(312.60,310.70) scale(0.95,1)" text-anchor="middle" font-size="12.4" stroke="#fff" stroke-width="0.5" fill="#fff">10</text>
<g transform="translate(349.6,307.3)"><circle r="17.60" fill="#fff" fill-opacity="0.22" stroke="#ff9797" stroke-width="1.8"/><circle r="14.40" fill="none" stroke="#ff9797" stroke-width="1.8"/><circle r="12.20" fill="#ff9797"/></g>
<text transform="translate(349.80,312.50) scale(1.0,1)" text-anchor="middle" font-size="12.4" stroke="#fff" stroke-width="0.5" fill="#fff">6</text>
<g transform="translate(391.0,308.6)"><circle r="16.10" fill="#fff" fill-opacity="0.22" stroke="#ffcdcd" stroke-width="1.8"/><circle r="12.90" fill="none" stroke="#ffcdcd" stroke-width="1.8"/><circle r="10.70" fill="#ffcdcd"/></g>
<text transform="translate(393.50,314.10) scale(1.0,1)" text-anchor="middle" font-size="12.4" stroke="#fff" stroke-width="0.5" fill="#fff">4</text>
<g transform="translate(151.6,344.6)"><circle r="19.60" fill="#fff" fill-opacity="0.22" stroke="#ff6464" stroke-width="1.8"/><circle r="16.40" fill="none" stroke="#ff6464" stroke-width="1.8"/><circle r="14.20" fill="#ff6464"/></g>
<text transform="translate(153.80,349.50) scale(1.0,1)" text-anchor="middle" font-size="12.4" stroke="#fff" stroke-width="0.5" fill="#fff">29</text>
<g transform="translate(193.6,344.6)"><circle r="19.60" fill="#fff" fill-opacity="0.22" stroke="#ff6464" stroke-width="1.8"/><circle r="16.40" fill="none" stroke="#ff6464" stroke-width="1.8"/><circle r="14.20" fill="#ff6464"/></g>
<text transform="translate(194.80,349.70) scale(0.89,1)" text-anchor="middle" font-size="12.4" stroke="#fff" stroke-width="0.5" fill="#fff">17</text>
<g transform="translate(233.0,346.0)"><circle r="17.90" fill="#fff" fill-opacity="0.22" stroke="#ff9595" stroke-width="1.8"/><circle r="14.70" fill="none" stroke="#ff9595" stroke-width="1.8"/><circle r="12.50" fill="#ff9595"/></g>
<text transform="translate(234.60,351.10) scale(0.95,1)" text-anchor="middle" font-size="12.4" stroke="#fff" stroke-width="0.5" fill="#fff">10</text>
<g transform="translate(271.5,344.6)"><circle r="17.60" fill="#fff" fill-opacity="0.22" stroke="#ff9797" stroke-width="1.8"/><circle r="14.40" fill="none" stroke="#ff9797" stroke-width="1.8"/><circle r="12.20" fill="#ff9797"/></g>
<text transform="translate(273.30,349.40) scale(1.0,1)" text-anchor="middle" font-size="12.4" stroke="#fff" stroke-width="0.5" fill="#fff">7</text>
<g transform="translate(310.5,346.3)"><circle r="17.60" fill="#fff" fill-opacity="0.22" stroke="#ff9797" stroke-width="1.8"/><circle r="14.40" fill="none" stroke="#ff9797" stroke-width="1.8"/><circle r="12.20" fill="#ff9797"/></g>
<text transform="translate(312.30,351.10) scale(1.0,1)" text-anchor="middle" font-size="12.4" stroke="#fff" stroke-width="0.5" fill="#fff">6</text>
<g transform="translate(349.6,346.3)"><circle r="17.60" fill="#fff" fill-opacity="0.22" stroke="#ff9797" stroke-width="1.8"/><circle r="14.40" fill="none" stroke="#ff9797" stroke-width="1.8"/><circle r="12.20" fill="#ff9797"/></g>
<text transform="translate(351.00,351.10) scale(1.0,1)" text-anchor="middle" font-size="12.4" stroke="#fff" stroke-width="0.5" fill="#fff">7</text>
<g transform="translate(389.3,344.6)"><circle r="17.60" fill="#fff" fill-opacity="0.22" stroke="#ff9797" stroke-width="1.8"/><circle r="14.40" fill="none" stroke="#ff9797" stroke-width="1.8"/><circle r="12.20" fill="#ff9797"/></g>
<text transform="translate(391.50,349.40) scale(1.0,1)" text-anchor="middle" font-size="12.4" stroke="#fff" stroke-width="0.5" fill="#fff">9</text>
<g transform="translate(151.6,384.6)"><circle r="19.60" fill="#fff" fill-opacity="0.22" stroke="#ff6464" stroke-width="1.8"/><circle r="16.40" fill="none" stroke="#ff6464" stroke-width="1.8"/><circle r="14.20" fill="#ff6464"/></g>
<text transform="translate(153.00,390.30) scale(0.915,1)" text-anchor="middle" font-size="12.4" stroke="#fff" stroke-width="0.5" fill="#fff">18</text>
<g transform="translate(195.2,383.4)"><circle r="17.90" fill="#fff" fill-opacity="0.22" stroke="#ff9595" stroke-width="1.8"/><circle r="14.70" fill="none" stroke="#ff9595" stroke-width="1.8"/><circle r="12.50" fill="#ff9595"/></g>
<text transform="translate(196.90,388.80) scale(0.88,1)" text-anchor="middle" font-size="12.4" stroke="#fff" stroke-width="0.5" fill="#fff">15</text>
<g transform="translate(235.7,382.0)"><circle r="16.10" fill="#fff" fill-opacity="0.22" stroke="#ffcdcd" stroke-width="1.8"/><circle r="12.90" fill="none" stroke="#ffcdcd" stroke-width="1.8"/><circle r="10.70" fill="#ffcdcd"/></g>
<text transform="translate(237.60,387.10) scale(1.0,1)" text-anchor="middle" font-size="12.4" stroke="#fff" stroke-width="0.5" fill="#fff">3</text>
<g transform="translate(273.1,383.2)"><circle r="17.60" fill="#fff" fill-opacity="0.22" stroke="#ff9797" stroke-width="1.8"/><circle r="14.40" fill="none" stroke="#ff9797" stroke-width="1.8"/><circle r="12.20" fill="#ff9797"/></g>
<text transform="translate(275.00,388.30) scale(1.0,1)" text-anchor="middle" font-size="12.4" stroke="#fff" stroke-width="0.5" fill="#fff">7</text>
<g transform="translate(310.6,381.9)"><circle r="16.10" fill="#fff" fill-opacity="0.22" stroke="#ffcdcd" stroke-width="1.8"/><circle r="12.90" fill="none" stroke="#ffcdcd" stroke-width="1.8"/><circle r="10.70" fill="#ffcdcd"/></g>
<text transform="translate(310.90,386.90) scale(1.0,1)" text-anchor="middle" font-size="12.4" stroke="#fff" stroke-width="0.5" fill="#fff">5</text>
<g transform="translate(347.9,386.5)"><circle r="16.10" fill="#fff" fill-opacity="0.22" stroke="#ffcdcd" stroke-width="1.8"/><circle r="12.90" fill="none" stroke="#ffcdcd" stroke-width="1.8"/><circle r="10.70" fill="#ffcdcd"/></g>
<text transform="translate(350.00,391.50) scale(1.0,1)" text-anchor="middle" font-size="12.4" stroke="#fff" stroke-width="0.5" fill="#fff">4</text>
<g transform="translate(386.8,381.9)"><circle r="16.10" fill="#fff" fill-opacity="0.22" stroke="#ffcdcd" stroke-width="1.8"/><circle r="12.90" fill="none" stroke="#ffcdcd" stroke-width="1.8"/><circle r="10.70" fill="#ffcdcd"/></g>
<text transform="translate(387.10,387.00) scale(1.0,1)" text-anchor="middle" font-size="12.4" stroke="#fff" stroke-width="0.5" fill="#fff">3</text>
<g transform="translate(151.7,419.6)"><circle r="17.60" fill="#fff" fill-opacity="0.22" stroke="#ff9797" stroke-width="1.8"/><circle r="14.40" fill="none" stroke="#ff9797" stroke-width="1.8"/><circle r="12.20" fill="#ff9797"/></g>
<text transform="translate(151.70,424.40) scale(1.0,1)" text-anchor="middle" font-size="12.4" stroke="#fff" stroke-width="0.5" fill="#fff">7</text>
<g transform="translate(236.0,425.1)"><circle r="16.10" fill="#fff" fill-opacity="0.22" stroke="#ffcdcd" stroke-width="1.8"/><circle r="12.90" fill="none" stroke="#ffcdcd" stroke-width="1.8"/><circle r="10.70" fill="#ffcdcd"/></g>
<text transform="translate(237.60,430.40) scale(1.0,1)" text-anchor="middle" font-size="12.4" stroke="#fff" stroke-width="0.5" fill="#fff">3</text>
<g transform="translate(427.2,269.9)"><circle r="16.10" fill="#fff" fill-opacity="0.22" stroke="#ffcdcd" stroke-width="1.8"/><circle r="12.90" fill="none" stroke="#ffcdcd" stroke-width="1.8"/><circle r="10.70" fill="#ffcdcd"/></g>
<text transform="translate(427.70,274.70) scale(1.0,1)" text-anchor="middle" font-size="12.4" stroke="#fff" stroke-width="0.5" fill="#fff">5</text>
<g transform="translate(427.3,305.6)"><circle r="17.60" fill="#fff" fill-opacity="0.22" stroke="#ff9797" stroke-width="1.8"/><circle r="14.40" fill="none" stroke="#ff9797" stroke-width="1.8"/><circle r="12.20" fill="#ff9797"/></g>
<text transform="translate(429.00,310.70) scale(1.0,1)" text-anchor="middle" font-size="12.4" stroke="#fff" stroke-width="0.5" fill="#fff">7</text>
<g transform="translate(464.8,305.8)"><circle r="16.10" fill="#fff" fill-opacity="0.22" stroke="#ffcdcd" stroke-width="1.8"/><circle r="12.90" fill="none" stroke="#ffcdcd" stroke-width="1.8"/><circle r="10.70" fill="#ffcdcd"/></g>
<text transform="translate(466.80,310.70) scale(1.0,1)" text-anchor="middle" font-size="12.4" stroke="#fff" stroke-width="0.5" fill="#fff">4</text>
<g transform="translate(541.0,308.8)"><circle r="16.10" fill="#fff" fill-opacity="0.22" stroke="#ffcdcd" stroke-width="1.8"/><circle r="12.90" fill="none" stroke="#ffcdcd" stroke-width="1.8"/><circle r="10.70" fill="#ffcdcd"/></g>
<text transform="translate(543.20,314.00) scale(1.0,1)" text-anchor="middle" font-size="12.4" stroke="#fff" stroke-width="0.5" fill="#fff">4</text>
<g transform="translate(425.7,347.6)"><circle r="16.10" fill="#fff" fill-opacity="0.22" stroke="#ffcdcd" stroke-width="1.8"/><circle r="12.90" fill="none" stroke="#ffcdcd" stroke-width="1.8"/><circle r="10.70" fill="#ffcdcd"/></g>
<text transform="translate(427.80,352.50) scale(1.0,1)" text-anchor="middle" font-size="12.4" stroke="#fff" stroke-width="0.5" fill="#fff">4</text>
<g transform="translate(466.0,344.5)"><circle r="17.60" fill="#fff" fill-opacity="0.22" stroke="#ff9797" stroke-width="1.8"/><circle r="14.40" fill="none" stroke="#ff9797" stroke-width="1.8"/><circle r="12.20" fill="#ff9797"/></g>
<text transform="translate(468.20,349.70) scale(1.0,1)" text-anchor="middle" font-size="12.4" stroke="#fff" stroke-width="0.5" fill="#fff">6</text>
<g transform="translate(503.4,347.6)"><circle r="16.10" fill="#fff" fill-opacity="0.22" stroke="#ffcdcd" stroke-width="1.8"/><circle r="12.90" fill="none" stroke="#ffcdcd" stroke-width="1.8"/><circle r="10.70" fill="#ffcdcd"/></g>
<text transform="translate(505.80,352.50) scale(1.0,1)" text-anchor="middle" font-size="12.4" stroke="#fff" stroke-width="0.5" fill="#fff">4</text>
<g transform="translate(427.2,381.9)"><circle r="16.10" fill="#fff" fill-opacity="0.22" stroke="#ffcdcd" stroke-width="1.8"/><circle r="12.90" fill="none" stroke="#ffcdcd" stroke-width="1.8"/><circle r="10.70" fill="#ffcdcd"/></g>
<text transform="translate(427.70,387.00) scale(1.0,1)" text-anchor="middle" font-size="12.4" stroke="#fff" stroke-width="0.5" fill="#fff">5</text>
<g transform="translate(502.1,385.0)"><circle r="16.10" fill="#fff" fill-opacity="0.22" stroke="#ffcdcd" stroke-width="1.8"/><circle r="12.90" fill="none" stroke="#ffcdcd" stroke-width="1.8"/><circle r="10.70" fill="#ffcdcd"/></g>
<text transform="translate(502.10,390.00) scale(1.0,1)" text-anchor="middle" font-size="12.4" stroke="#fff" stroke-width="0.5" fill="#fff">3</text>
<g transform="translate(582.8,269.9)"><circle r="16.10" fill="#fff" fill-opacity="0.22" stroke="#ffcdcd" stroke-width="1.8"/><circle r="12.90" fill="none" stroke="#ffcdcd" stroke-width="1.8"/><circle r="10.70" fill="#ffcdcd"/></g>
<text transform="translate(583.50,274.70) scale(1.0,1)" text-anchor="middle" font-size="12.4" stroke="#fff" stroke-width="0.5" fill="#fff">4</text>
<g transform="translate(623.3,304.1)"><circle r="16.10" fill="#fff" fill-opacity="0.22" stroke="#ffcdcd" stroke-width="1.8"/><circle r="12.90" fill="none" stroke="#ffcdcd" stroke-width="1.8"/><circle r="10.70" fill="#ffcdcd"/></g>
<text transform="translate(625.40,309.10) scale(1.0,1)" text-anchor="middle" font-size="12.4" stroke="#fff" stroke-width="0.5" fill="#fff">4</text>
<g transform="translate(694.9,308.8)"><circle r="16.10" fill="#fff" fill-opacity="0.22" stroke="#ffcdcd" stroke-width="1.8"/><circle r="12.90" fill="none" stroke="#ffcdcd" stroke-width="1.8"/><circle r="10.70" fill="#ffcdcd"/></g>
<text transform="translate(695.60,314.00) scale(1.0,1)" text-anchor="middle" font-size="12.4" stroke="#fff" stroke-width="0.5" fill="#fff">4</text>
<g transform="translate(585.9,347.5)"><circle r="16.10" fill="#fff" fill-opacity="0.22" stroke="#ffcdcd" stroke-width="1.8"/><circle r="12.90" fill="none" stroke="#ffcdcd" stroke-width="1.8"/><circle r="10.70" fill="#ffcdcd"/></g>
<text transform="translate(586.40,352.90) scale(1.0,1)" text-anchor="middle" font-size="12.4" stroke="#fff" stroke-width="0.5" fill="#fff">3</text>
<g transform="translate(620.3,344.6)"><circle r="16.10" fill="#fff" fill-opacity="0.22" stroke="#ffcdcd" stroke-width="1.8"/><circle r="12.90" fill="none" stroke="#ffcdcd" stroke-width="1.8"/><circle r="10.70" fill="#ffcdcd"/></g>
<text transform="translate(622.30,349.50) scale(1.0,1)" text-anchor="middle" font-size="12.4" stroke="#fff" stroke-width="0.5" fill="#fff">4</text>
<g transform="translate(1090.1,268.5)"><circle r="16.10" fill="#fff" fill-opacity="0.22" stroke="#ffcdcd" stroke-width="1.8"/><circle r="12.90" fill="none" stroke="#ffcdcd" stroke-width="1.8"/><circle r="10.70" fill="#ffcdcd"/></g>
<text transform="translate(1090.40,273.40) scale(1.0,1)" text-anchor="middle" font-size="12.4" stroke="#fff" stroke-width="0.5" fill="#fff">3</text>
<g transform="translate(1094.7,349.2)"><circle r="16.10" fill="#fff" fill-opacity="0.22" stroke="#ffcdcd" stroke-width="1.8"/><circle r="12.90" fill="none" stroke="#ffcdcd" stroke-width="1.8"/><circle r="10.70" fill="#ffcdcd"/></g>
<text transform="translate(1096.50,354.20) scale(1.0,1)" text-anchor="middle" font-size="12.4" stroke="#fff" stroke-width="0.5" fill="#fff">3</text>
<text transform="translate(129.13,72.60) scale(1.0438,1)" font-size="18.0" fill="#3c4043">Luxury</text>
<text transform="translate(129.35,95.40) scale(1.0548,1)" font-size="18.0" fill="#3c4043">Consumers</text>
<text transform="translate(1257.12,72.20) scale(1.0564,1)" font-size="18.0" fill="#3c4043">Brand</text>
<text transform="translate(1258.10,95.40) scale(1.0457,1)" font-size="18.0" fill="#3c4043">Ambassadors</text>
<text transform="translate(129.58,647.50) scale(1.1247,1)" font-size="18.0" fill="#3c4043">Growth</text>
<text transform="translate(129.87,670.50) scale(1.1054,1)" font-size="18.0" fill="#3c4043">Opportunities</text>
<text transform="translate(1229.14,647.70) scale(1.0410,1)" font-size="18.0" fill="#3c4043">Frequent Bargain</text>
<text transform="translate(1229.15,670.30) scale(1.0344,1)" font-size="18.0" fill="#3c4043">Buyers</text>
<text transform="translate(674.09,741.70) scale(1.0725,1)" font-size="18.0" fill="#3c4043">Number of Orders</text>
<text transform="translate(70.05,80.85) scale(1.0330,1)" font-size="18.6" fill="#3c4043">100</text>
<text transform="translate(79.87,202.40) scale(1.1065,1)" font-size="18.6" fill="#3c4043">80</text>
<text transform="translate(79.59,323.70) scale(1.1105,1)" font-size="18.6" fill="#3c4043">60</text>
<text transform="translate(78.43,444.70) scale(1.1385,1)" font-size="18.6" fill="#3c4043">40</text>
<text transform="translate(79.62,566.00) scale(1.0789,1)" font-size="18.6" fill="#3c4043">20</text>
<text transform="translate(89.28,687.50) scale(1.2229,1)" font-size="18.6" fill="#3c4043">0</text>
<text transform="translate(200.68,710.85) scale(1.1158,1)" font-size="18.6" fill="#3c4043">20</text>
<text transform="translate(350.76,710.85) scale(1.1013,1)" font-size="18.6" fill="#3c4043">30</text>
<text transform="translate(500.84,710.85) scale(1.0872,1)" font-size="18.6" fill="#3c4043">40</text>
<text transform="translate(650.34,710.85) scale(1.1013,1)" font-size="18.6" fill="#3c4043">50</text>
<text transform="translate(799.84,710.85) scale(1.1158,1)" font-size="18.6" fill="#3c4043">60</text>
<text transform="translate(949.63,710.85) scale(1.1158,1)" font-size="18.6" fill="#3c4043">70</text>
<text transform="translate(1099.71,710.85) scale(1.1013,1)" font-size="18.6" fill="#3c4043">80</text>
<text transform="translate(1249.21,710.85) scale(1.1158,1)" font-size="18.6" fill="#3c4043">90</text>
<text transform="translate(54.00,466.70) rotate(-90) scale(0.9889,1)" font-size="18.0" fill="#3c4043">Average Sale Price (USD)</text>
</svg>
</body></html>
